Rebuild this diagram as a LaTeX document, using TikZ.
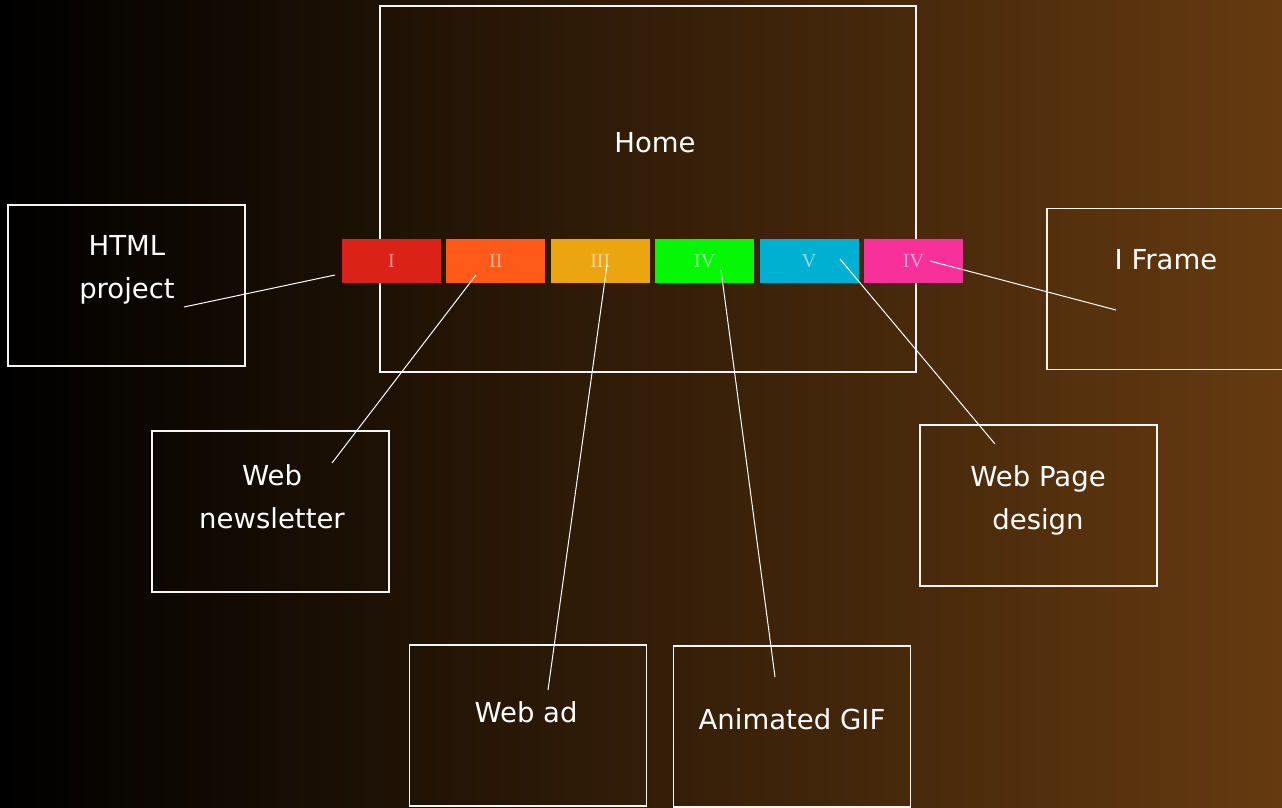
\documentclass[tikz,border=0pt]{standalone}
\usepackage{fontspec}
\setmainfont{DejaVu Sans}
\newfontfamily\tabfont{Liberation Serif}
\usetikzlibrary{positioning}
\definecolor{bgright}{RGB}{101,58,16}
\definecolor{tabred}{RGB}{219,34,22}
\definecolor{taborange}{RGB}{255,90,26}
\definecolor{tabgold}{RGB}{234,165,16}
\definecolor{tabgreen}{RGB}{5,247,5}
\definecolor{tabcyan}{RGB}{0,176,208}
\definecolor{tabpink}{RGB}{247,48,154}

\begin{document}
\begin{tikzpicture}[x=1pt,y=-1pt,
         caja/.style={rectangle,draw=white!92!gray,line width=1.1pt,inner sep=0pt,minimum width=237pt,minimum height=161pt},
         texto/.style={text=white,font=\fontsize{27.5}{43}\selectfont,align=center,anchor=base},
         pestana/.style={rectangle,inner sep=0pt,minimum width=99pt,minimum height=44pt,
                         text=white,text opacity=0.55,font=\tabfont\fontsize{20}{20}\selectfont},
         enlace/.style={draw=white,line width=1pt}]
        \useasboundingbox (0,0) rectangle (1282,808);
        \fill [left color=black,right color=bgright] (0,0) rectangle (1282,808);
        % boxes
        \node [caja,minimum width=536pt,minimum height=366pt] (home) at (648,189) {};
        \node [caja] (html) at (126.5,285.5) {};
        \node [caja] (news) at (270.5,511.5) {};
        \node [caja] (webad) at (528,725.5) {};
        \node [caja] (gif) at (792,726.5) {};
        \node [caja] (webpage) at (1038.5,505.5) {};
        \node [caja,minimum width=250pt] (iframe) at (1172,289) {};
        % texts
        \node [texto] (hometxt) at (655,152) {Home};
        \node [texto] (htmltxt) at (127,298) {HTML\\project};
        \node [texto] (newstxt) at (272,528) {Web\\newsletter};
        \node [texto] (webadtxt) at (526,722) {Web ad};
        \node [texto] (giftxt) at (792,729) {Animated GIF};
        \node [texto] (webpagetxt) at (1038,529) {Web Page\\design};
        \node [texto] (iframetxt) at (1166,269) {I Frame};
        % tabs
        \node [pestana,fill=tabred] (tab1) at (391.5,261) {I};
        \node [pestana,fill=taborange] (tab2) [right=5pt of tab1] {II};
        \node [pestana,fill=tabgold] (tab3) [right=5pt of tab2] {III};
        \node [pestana,fill=tabgreen] (tab4) [right=5pt of tab3] {IV};
        \node [pestana,fill=tabcyan] (tab5) [right=5pt of tab4] {V};
        \node [pestana,fill=tabpink] (tab6) [right=5pt of tab5] {IV};
        % line ends
        \coordinate (c1) at (184,307);  \coordinate (t1) at (335,275);
        \coordinate (c2) at (332,463);  \coordinate (t2) at (476,275);
        \coordinate (c3) at (548,690);  \coordinate (t3) at (607,265);
        \coordinate (c4) at (775,677);  \coordinate (t4) at (721,270);
        \coordinate (c5) at (995,444);  \coordinate (t5) at (840,259);
        \coordinate (c6) at (1116,310); \coordinate (t6) at (930,261);
        \draw [enlace] (c1) -- (t1);
        \draw [enlace] (c2) -- (t2);
        \draw [enlace] (c3) -- (t3);
        \draw [enlace] (c4) -- (t4);
        \draw [enlace] (c5) -- (t5);
        \draw [enlace] (c6) -- (t6);
\end{tikzpicture}
\end{document}
